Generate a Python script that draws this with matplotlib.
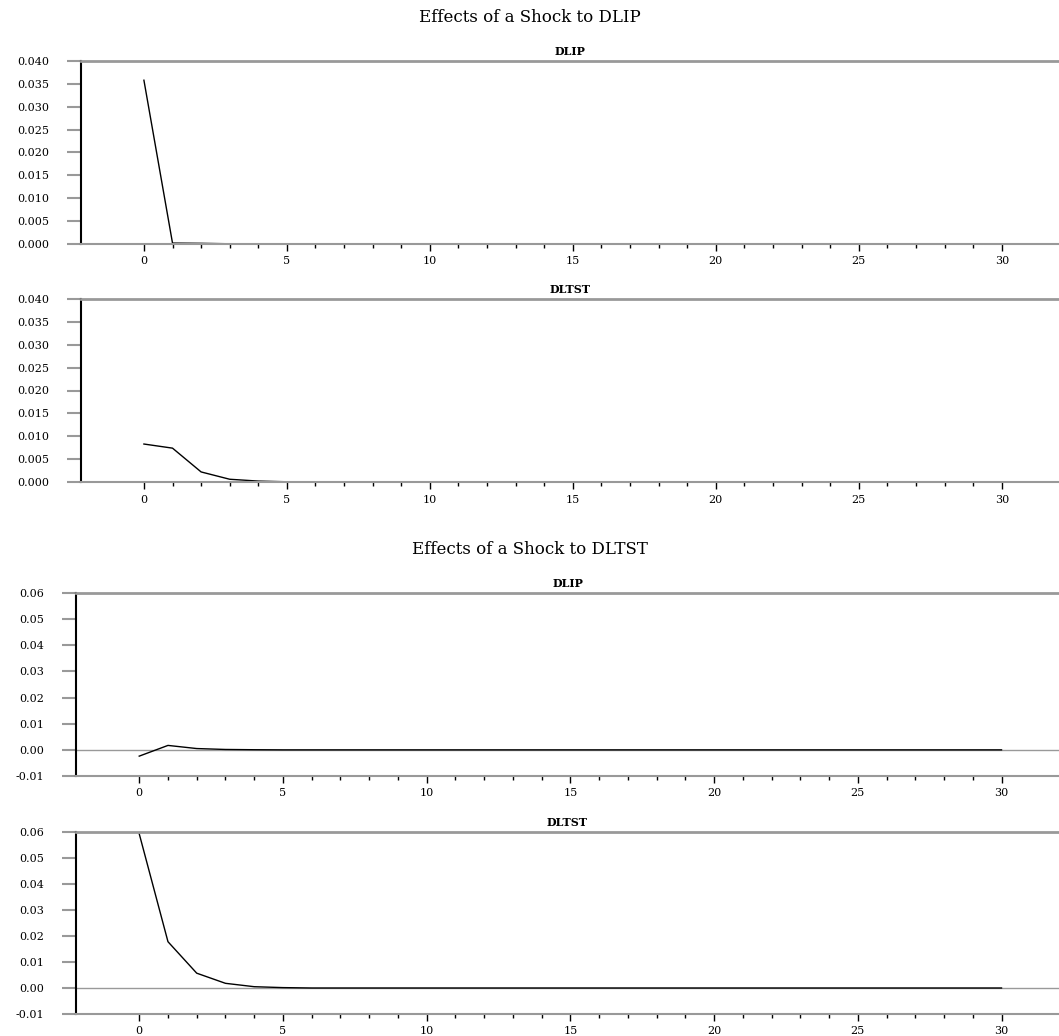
import numpy as np
import matplotlib
matplotlib.use('Agg')
import matplotlib.pyplot as plt
from matplotlib.ticker import MultipleLocator, FixedLocator, FormatStrFormatter

plt.rcParams['font.family'] = ['DejaVu Serif', 'Liberation Serif']

# impulse responses, horizon 0..30
steps = np.arange(31)
tail = [0.0] * 25

# shock to DLIP
dlip_dlip = [0.0358, 0.0002, 0.00015, 0.00005, 0.00002, 0.0] + tail
dltst_dlip = [0.0083, 0.0074, 0.0022, 0.0006, 0.0002, 0.00005] + tail
# shock to DLTST
dlip_dltst = [-0.0024, 0.0017, 0.0005, 0.00015, 0.00005, 0.0] + tail
dltst_dltst = [0.0593, 0.0178, 0.0057, 0.0018, 0.0005, 0.00015] + tail

titles = ['Effects of a Shock to DLIP', 'Effects of a Shock to DLTST']
panel_names = ['DLIP', 'DLTST', 'DLIP', 'DLTST']
panel_data = [dlip_dlip, dltst_dlip, dlip_dltst, dltst_dltst]

W, H = 1059, 1036
fig = plt.figure(figsize=(W / 100, H / 100), dpi=100)

# (left px, top px, bottom px)
boxes = [(81, 61, 244), (81, 299, 482), (76, 593, 776), (76, 832, 1014)]
ylims = [(0, 0.04), (0, 0.04), (-0.01, 0.06), (-0.01, 0.06)]
ysteps = [0.005, 0.005, 0.01, 0.01]
yfmt = ['%.3f', '%.3f', '%.2f', '%.2f']
grey = '#999999'

for i in range(4):
    l, t, b = boxes[i]
    ax = fig.add_axes([l / W, 1 - b / H, 1 - l / W, (b - t) / H])
    ax.plot(steps, panel_data[i], color='black', lw=1.0)
    if ylims[i][0] < 0:
        ax.axhline(0, color=grey, lw=1.0, zorder=0)
    ax.set_xlim(-2.2, 32)
    ax.set_ylim(*ylims[i])
    ax.spines['right'].set_visible(False)
    ax.spines['left'].set_color('black')
    ax.spines['left'].set_linewidth(1.5)
    ax.spines['top'].set_color(grey)
    ax.spines['top'].set_linewidth(2.0)
    ax.spines['bottom'].set_color(grey)
    ax.spines['bottom'].set_linewidth(1.5)
    ax.xaxis.set_major_locator(FixedLocator(steps[::5]))
    ax.xaxis.set_minor_locator(FixedLocator(steps))
    ax.yaxis.set_major_locator(MultipleLocator(ysteps[i]))
    ax.yaxis.set_major_formatter(FormatStrFormatter(yfmt[i]))
    ax.tick_params(axis='x', which='major', direction='out', length=5,
                   width=1.0, color='black', labelsize=8, pad=4)
    ax.tick_params(axis='x', which='minor', direction='out', length=3,
                   width=1.0, color='black')
    ax.tick_params(axis='y', which='major', direction='out', length=10,
                   width=1.5, color=grey, labelsize=8, pad=13)
    ax.set_title(panel_names[i], fontsize=8, fontweight='bold', pad=4)

fig.text(0.5, 1 - 17 / H, titles[0], ha='center', va='center', fontsize=12)
fig.text(0.5, 1 - 550 / H, titles[1], ha='center', va='center', fontsize=12)

fig.savefig('out.png', dpi=100)
